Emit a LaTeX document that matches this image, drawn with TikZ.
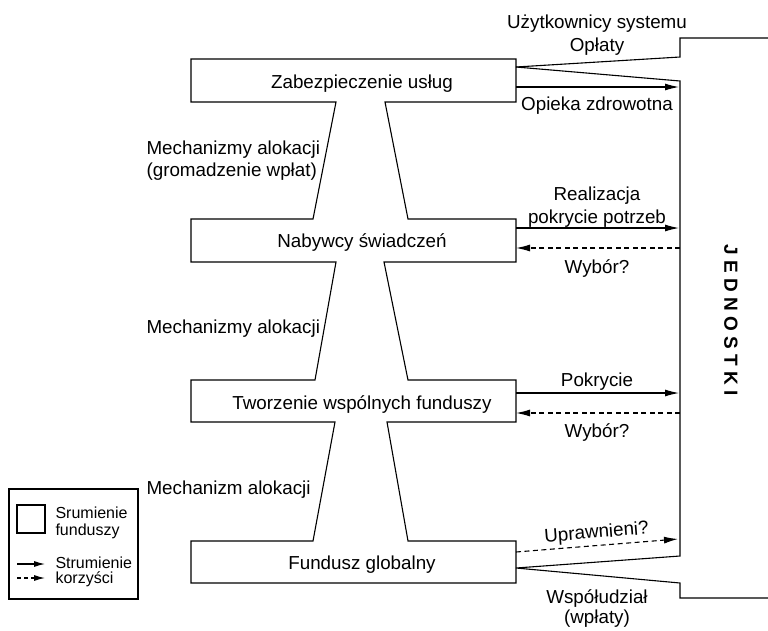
\documentclass[tikz,border=0pt]{standalone}
\usepackage{fontspec}
\setmainfont{Liberation Sans}
\newfontfamily\spacedfont[LetterSpace=28]{Liberation Sans}
\usetikzlibrary{arrows.meta}

\tikzset{
  lbl/.style={font=\fontsize{18.8}{23}\selectfont,inner sep=0pt,anchor=base},
  key/.style={font=\fontsize{16}{18}\selectfont,inner sep=0pt,anchor=base west},
  flow/.style={-{Latex[length=14pt,width=7pt]}},
  back/.style={flow,dash pattern=on 5pt off 3.5pt},
  keyflow/.style={-{Latex[length=11pt,width=6pt]}},
}

\begin{document}
\begin{tikzpicture}[x=1pt,y=-1pt,line width=1.1pt]
\useasboundingbox (0,0) rectangle (768,630);

        % the four stages, joined by their necks
        \draw (191,59) -- (516,59) -- (516,102) -- (385,102) -- (408,219)
          -- (516,219) -- (516,262) -- (384,262) -- (408,380) -- (516,380)
          -- (516,422) -- (387,422) -- (408,541) -- (516,541) -- (516,583)
          -- (191,583) -- (191,541) -- (313,541) -- (335,422) -- (191,422)
          -- (191,380) -- (315,380) -- (336,262) -- (191,262) -- (191,219)
          -- (313,219) -- (336,102) -- (191,102) -- cycle;

        \begin{scope}[every node/.style={lbl}]
          \node (zab)   at (362,88)  {Zabezpieczenie usług};
          \node (nab)   at (362,247) {Nabywcy świadczeń};
          \node (tworz) at (362,409) {Tworzenie wspólnych funduszy};
          \node (glob)  at (362,569) {Fundusz globalny};

          \node[anchor=base west] (mech1a) at (146,154) {Mechanizmy alokacji};
          \node[anchor=base west] (mech1b) at (146,176) {(gromadzenie wpłat)};
          \node[anchor=base west] (mech2)  at (146,333) {Mechanizmy alokacji};
          \node[anchor=base west] (mech3)  at (146,494) {Mechanizm alokacji};

          \node (uzyt)  at (597,28)  {Użytkownicy systemu};
          \node (oplat) at (597,51)  {Opłaty};
          \node (opiek) at (597,110) {Opieka zdrowotna};
          \node (real)  at (597,200) {Realizacja};
          \node (potrz) at (597,223) {pokrycie potrzeb};
          \node (wyb1)  at (597,273) {Wybór?};
          \node (pokr)  at (597,386) {Pokrycie};
          \node (wyb2)  at (597,437) {Wybór?};
          \node[rotate=4.5] (upr) at (597,538) {Uprawnieni?};
          \node (wspol) at (597,603) {Współudział};
          \node (wplat) at (597,623) {(wpłaty)};
        \end{scope}

        \node[rotate=-90,inner sep=0pt,font=\spacedfont\bfseries\fontsize{19}{19}\selectfont]
          (jedn) at (731,320) {JEDNOSTKI};

        % individuals' side
        \coordinate (zab r)    at (516,67);
        \coordinate (glob r)   at (516,568);
        \coordinate (in top)   at (680,81);
        \coordinate (in bot)   at (680,556);
        \coordinate (out top)  at (680,57);
        \coordinate (out bot)  at (680,583);
        \coordinate (edge top) at (768,38);
        \coordinate (edge bot) at (768,598);

        \draw (zab r) -- (out top) |- (edge top);
        \draw (zab r) -- (in top) -- (in bot) -- (glob r) -- (out bot) |- (edge bot);

        \coordinate (care l) at (516,87);  \coordinate (care r) at (679,87);
        \coordinate (need l) at (516,228); \coordinate (need r) at (679,228);
        \coordinate (cov l)  at (516,393); \coordinate (cov r)  at (679,393);
        \coordinate (ch1 l)  at (516,248); \coordinate (ch1 r)  at (680,248);
        \coordinate (ch2 l)  at (516,413); \coordinate (ch2 r)  at (680,413);
        \coordinate (upr l)  at (516,552); \coordinate (upr r)  at (678,539);

        \draw[flow] (care l) -- (care r);
        \draw[flow] (need l) -- (need r);
        \draw[flow] (cov l)  -- (cov r);
        \draw[back] (ch1 r)  -- (ch1 l);
        \draw[back] (ch2 r)  -- (ch2 l);
        \draw[back] (upr l)  -- (upr r);

        % legend
        \draw (9,489) rectangle (138,599);
        \draw (17,505) rectangle (45,533);
        \node[key] (k1) at (55,518) {Srumienie};
        \node[key] (k2) at (55,535) {funduszy};
        \node[key] (k3) at (55,568) {Strumienie};
        \node[key] (k4) at (55,583) {korzyści};
        \coordinate (ka) at (17,564);
        \coordinate (kb) at (45,564);
        \coordinate (kc) at (17,578);
        \coordinate (kd) at (45,578);
        \draw[keyflow] (ka) -- (kb);
        \draw[keyflow,dash pattern=on 4pt off 3pt] (kc) -- (kd);

\end{tikzpicture}
\end{document}
